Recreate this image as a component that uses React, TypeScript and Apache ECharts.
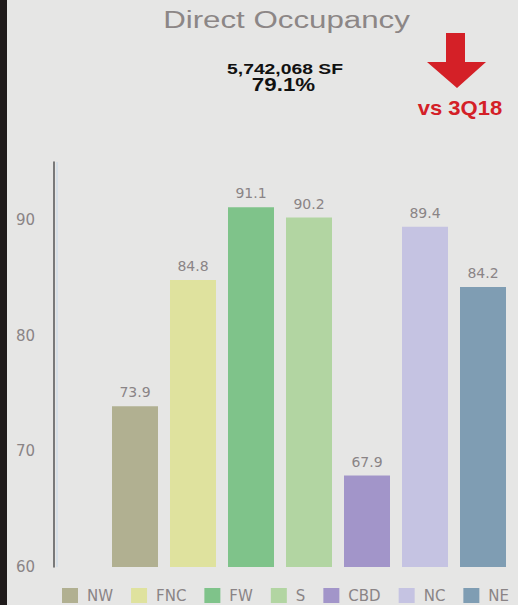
import React, { useEffect, useRef } from "react";
import * as echarts from "echarts";

const categories = ["NW", "FNC", "FW", "S", "CBD", "NC", "NE"];
const values = [73.9, 84.8, 91.1, 90.2, 67.9, 89.4, 84.2];
const yTicks = [60, 70, 80, 90];
const titleText = "Direct Occupancy";
const sfText = "5,742,068 SF";
const pctText = "79.1%";
const vsText = "vs 3Q18";

const palette = ["#b1b091", "#dfe29e", "#7fc38a", "#b2d5a2", "#a295c9", "#c5c3e2", "#7f9db3"];

export default function App() {
  const ref = useRef<HTMLDivElement>(null);
  useEffect(() => {
    if (!ref.current) return;
    const chart = echarts.init(ref.current, undefined, { renderer: "svg" });
    const labelColor = "#8a8486";
    const series = categories.map((name, i) => ({
      type: "bar",
      name,
      data: values.map((v, j) => (j === i ? v : "-")),
      barWidth: 46,
      barGap: "-100%",
      itemStyle: { color: palette[i] },
      label: {
        show: true,
        position: "top",
        distance: 7,
        color: labelColor,
        fontFamily: "DejaVu Sans",
        fontSize: 14,
      },
    }));
    chart.setOption({
      animation: false,
      backgroundColor: "#e6e6e5",
      grid: { left: 106, right: 6, top: 162, bottom: 38 },
      xAxis: {
        type: "category",
        data: categories,
        axisLine: { show: false },
        axisTick: { show: false },
        axisLabel: { show: false },
      },
      yAxis: {
        type: "value",
        min: yTicks[0],
        max: 95,
        interval: yTicks[1] - yTicks[0],
        offset: 52,
        splitLine: { show: false },
        axisTick: { show: false },
        axisLine: { show: true, lineStyle: { color: "#555555", width: 1.5 } },
        axisLabel: {
          showMaxLabel: false,
          margin: 19,
          color: labelColor,
          fontFamily: "DejaVu Sans",
          fontSize: 15,
        },
      },
      legend: {
        left: 62,
        top: 588,
        width: 700,
        itemWidth: 16,
        itemHeight: 15,
        itemGap: 18,
        icon: "rect",
        padding: 0,
        textStyle: {
          color: labelColor,
          fontFamily: "DejaVu Sans",
          fontSize: 15,
          padding: [0, 0, 0, 4],
        },
        data: categories,
      },
      graphic: [
        { type: "rect", left: 0, top: 0, shape: { x: 0, y: 0, width: 7, height: 605 }, style: { fill: "#1f1b1b" }, z: 10 },
        { type: "line", shape: { x1: 57, y1: 162, x2: 57, y2: 567 }, style: { stroke: "#d5dee6", lineWidth: 2 } },
        {
          type: "text",
          x: 286.5,
          y: 20,
          scaleX: 1.36,
          style: {
            text: titleText,
            fill: "#8c8686",
            font: "23px 'Liberation Sans', Arial, sans-serif",
            align: "center",
            verticalAlign: "middle",
          },
        },
        {
          type: "text",
          x: 285,
          y: 69,
          scaleX: 1.38,
          style: {
            text: sfText,
            fill: "#111111",
            font: "bold 14px 'Liberation Sans', Arial, sans-serif",
            align: "center",
            verticalAlign: "middle",
          },
        },
        {
          type: "text",
          x: 283.5,
          y: 84.5,
          scaleX: 1.24,
          style: {
            text: pctText,
            fill: "#111111",
            font: "bold 18px 'Liberation Sans', Arial, sans-serif",
            align: "center",
            verticalAlign: "middle",
          },
        },
        {
          type: "polygon",
          shape: {
            points: [
              [446, 33],
              [465, 33],
              [465, 62],
              [486, 62],
              [457, 88],
              [427, 62],
              [446, 62],
            ],
          },
          style: { fill: "#d42027" },
        },
        {
          type: "text",
          x: 460,
          y: 108.5,
          scaleX: 1.05,
          style: {
            text: vsText,
            fill: "#d42027",
            font: "bold 21px 'Liberation Sans', Arial, sans-serif",
            align: "center",
            verticalAlign: "middle",
          },
        },
      ],
      series,
    });
    return () => chart.dispose();
  }, []);
  return (
    <div
      ref={ref}
      style={{ position: "absolute", left: 0, top: 0, width: 518, height: 605 }}
    />
  );
}
